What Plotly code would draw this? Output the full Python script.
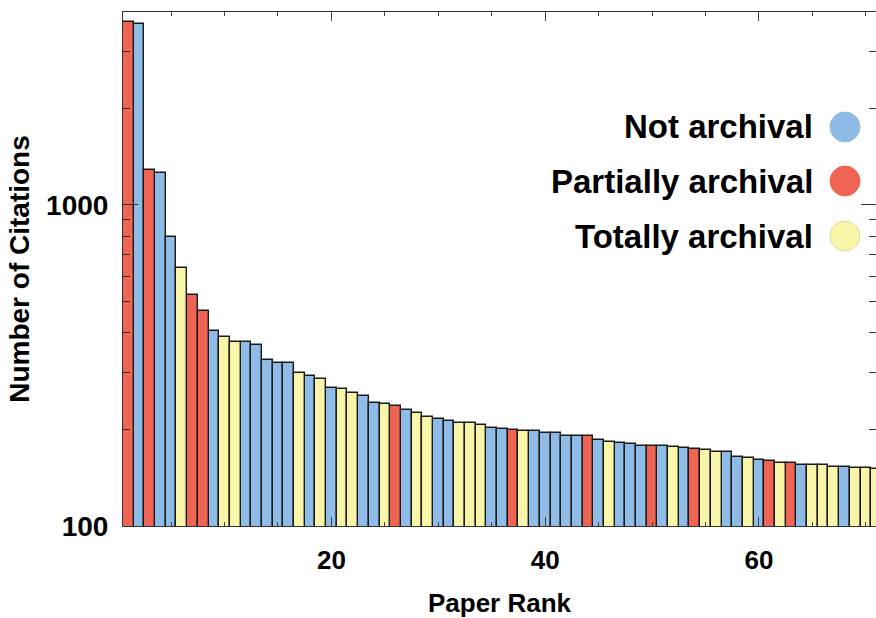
import plotly.graph_objects as go

# ---- data ----
ranks = list(range(1, 72))
citations = [
    3707, 3656, 1285, 1256, 796, 638, 525, 468, 405, 387,
    373, 373, 365, 330, 322, 322, 300, 293, 286, 269,
    267, 260, 254, 242, 240, 236, 230, 225, 219, 216,
    213, 210, 209, 206, 202, 201, 199, 198, 197, 195,
    195, 191, 191, 191, 185, 183, 182, 180, 177, 177,
    177, 176, 175, 174, 173, 170, 170, 164, 163, 161,
    159, 157, 157, 155, 155, 155, 153, 153, 152, 152,
    151,
]
N, P, T = "Not archival", "Partially archival", "Totally archival"
status = [
    P, N, P, N, N, T, P, P, N, T,
    T, N, N, N, N, N, T, N, T, N,
    T, T, N, N, T, P, N, T, T, N,
    N, T, T, T, N, N, P, T, N, N,
    N, N, N, P, N, T, N, N, N, P,
    N, T, N, P, T, T, N, N, T, N,
    P, T, P, N, T, T, T, N, T, T,
    T,
]
categories = [N, P, T]
x_tick_values = [20, 40, 60]
y_tick_values = [100, 1000]

# ---- styles ----
colors = {N: "#8fbce6", P: "#ef6452", T: "#f8f5a9"}
legend_border = {N: "#8fbce6", P: "#ef6452", T: "#dcdaa0"}
FONT = "Liberation Sans, Arial, Helvetica, sans-serif"

fig = go.Figure()
for cat in categories:
    xs = [r for r, s in zip(ranks, status) if s == cat]
    ys = [c for c, s in zip(citations, status) if s == cat]
    fig.add_trace(go.Bar(
        x=xs, y=ys, name=cat, width=1.0,
        marker=dict(color=colors[cat], line=dict(color="#1a1a1a", width=1.4)),
        showlegend=False,
    ))

W, H = 876, 618
L, R, TOP, B = 123, 0, 12, 92
pw, ph = W - L - R, H - TOP - B

def px_x(x):
    return (x - L) / pw

def px_y(y):
    return (H - B - y) / ph

# custom legend: right-aligned labels with a circle to the right
rows_y = [127, 181, 236]
for cat, yc in zip(categories, rows_y):
    fig.add_annotation(
        x=px_x(815), y=px_y(yc), xref="paper", yref="paper",
        xanchor="right", yanchor="middle", showarrow=False,
        text=cat, font=dict(family=FONT, size=33, color="black", weight="bold"),
    )
    fig.add_shape(
        type="circle", xref="paper", yref="paper",
        x0=px_x(830), x1=px_x(860), y0=px_y(yc + 15), y1=px_y(yc - 15),
        fillcolor=colors[cat], line=dict(color=legend_border[cat], width=1),
    )

fig.update_layout(
    width=W, height=H,
    margin=dict(l=L, r=R, t=TOP, b=B, autoexpand=False),
    paper_bgcolor="white", plot_bgcolor="white",
    barmode="overlay", bargap=0,
    font=dict(family=FONT, color="black"),
    xaxis=dict(
        range=[0.5, 70.95], automargin=False,
        tickmode="array", tickvals=x_tick_values,
        ticks="inside", ticklen=9, tickwidth=1, tickcolor="#444",
        minor=dict(ticks="inside", ticklen=4, tickwidth=1, tickcolor="#444",
                   tick0=0, dtick=5, showgrid=False),
        showline=True, linecolor="#333", linewidth=1, mirror="ticks",
        showgrid=False, zeroline=False,
        tickfont=dict(family=FONT, size=26, weight="bold"),
        ticklabelstandoff=11,
        title=dict(text="Paper Rank", standoff=22,
                   font=dict(family=FONT, size=26, weight="bold")),
    ),
    yaxis=dict(
        type="log", range=[2, 3.601], automargin=False,
        tickmode="array", tickvals=y_tick_values,
        ticks="inside", ticklen=15, tickwidth=1, tickcolor="#333",
        minor=dict(ticks="inside", ticklen=7, tickwidth=1, tickcolor="#333",
                   dtick="D1", showgrid=False),
        showline=True, linecolor="#333", linewidth=1, mirror="ticks",
        showgrid=False, zeroline=False,
        tickfont=dict(family=FONT, size=28, weight="bold"),
        ticklabelstandoff=8,
        title=dict(text="Number of Citations", standoff=8,
                   font=dict(family=FONT, size=28, weight="bold")),
    ),
)

fig.write_html(
    "out.html",
    config={"displayModeBar": False},
    post_script="document.body.style.margin='0';document.body.style.overflow='hidden';",
)
